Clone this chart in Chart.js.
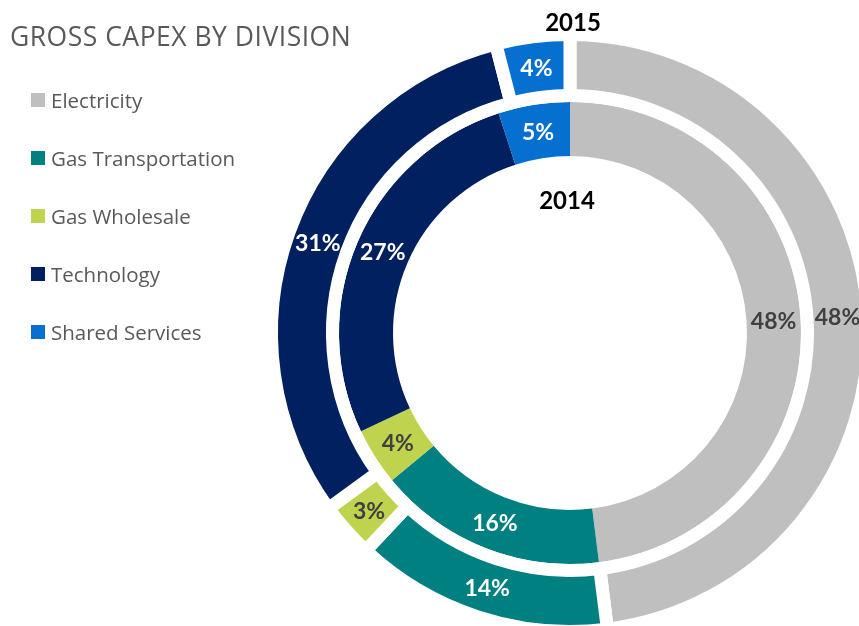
<!DOCTYPE html>
<html>
<head>
<meta charset="utf-8">
<title>Gross capex by division</title>
<script src="https://cdn.jsdelivr.net/npm/chart.js@4.4.0/dist/chart.umd.min.js"></script>
<style>
  html, body { margin: 0; padding: 0; background: #fff; }
  #wrap { position: relative; width: 859px; height: 626px; overflow: hidden; font-family: "Open Sans", Lato, sans-serif; }
  #chart { position: absolute; left: 0; top: 0; }
  .title { position: absolute; left: 10px; top: 18px; font-size: 26.5px; letter-spacing: 0.5px; color: #595959; white-space: nowrap; line-height: 36px; }
  .legend { position: absolute; left: 31px; top: 88px; margin: 0; padding: 0; list-style: none; }
  .legend li { display: flex; align-items: center; height: 24px; margin-bottom: 34px; font-size: 20.5px; color: #595959; white-space: nowrap; }
  .legend .swatch { width: 14px; height: 14px; margin-right: 6px; flex: none; }
  .year { position: absolute; width: 100px; text-align: center; font-family: Lato, sans-serif; font-weight: bold; font-size: 24px; color: #000; line-height: 30px; }
</style>
</head>
<body>
<div id="wrap">
  <canvas id="chart" width="859" height="626"></canvas>
  <div class="title">GROSS CAPEX BY DIVISION</div>
  <ul class="legend" id="legend"></ul>
  <div class="year" id="year-outer" style="left:523px; top:7px;"></div>
  <div class="year" id="year-inner" style="left:517px; top:185px;"></div>
</div>
<script>
const categories = ["Electricity", "Gas Transportation", "Gas Wholesale", "Technology", "Shared Services"];
const years = ["2015", "2014"];
const capex2015 = [48, 14, 3, 31, 4];
const capex2014 = [48, 16, 4, 27, 5];

const COLORS = ["#bfbfbf", "#008080", "#bfd34e", "#002060", "#0570cf"];
const LABEL_COLORS = ["#404040", "#ffffff", "#404040", "#ffffff", "#ffffff"];

function buildLegend() {
  const ul = document.getElementById("legend");
  categories.forEach((name, i) => {
    const li = document.createElement("li");
    li.innerHTML = `<span class="swatch" style="background:${COLORS[i]}"></span><span>${name}</span>`;
    ul.appendChild(li);
  });
  document.getElementById("year-outer").textContent = years[0];
  document.getElementById("year-inner").textContent = years[1];
}

// percentage labels in the middle of every arc
const pctLabels = {
  id: "pctLabels",
  afterDatasetsDraw(chart) {
    const ctx = chart.ctx;
    ctx.save();
    ctx.font = "bold 23px Lato";
    ctx.textAlign = "center";
    ctx.textBaseline = "middle";
    chart.data.datasets.forEach((ds, di) => {
      chart.getDatasetMeta(di).data.forEach((arc, i) => {
        const p = arc.getCenterPoint();
        ctx.fillStyle = LABEL_COLORS[i];
        ctx.fillText(`${ds.data[i]}%`, p.x, p.y + 1);
      });
    });
    ctx.restore();
  }
};

function createChart() {
  const ctx = document.getElementById("chart").getContext("2d");
  return new Chart(ctx, {
    type: "doughnut",
    data: {
      labels: categories,
      datasets: [
        {
          label: years[0],
          data: capex2015,
          backgroundColor: COLORS,
          borderColor: "#ffffff",
          borderWidth: 13,
          radius: 298.5,
          cutout: "59.13%",
          clip: false,
        },
        {
          label: years[1],
          data: capex2014,
          backgroundColor: COLORS,
          borderWidth: 0,
          radius: 285,
          cutout: "62.1%",
          clip: false,
        }
      ]
    },
    options: {
      responsive: false,
      devicePixelRatio: 1,
      animation: false,
      layout: { padding: { left: 281, top: 40, right: 0, bottom: 0 } },
      plugins: {
        legend: { display: false },
        title: { display: false },
        tooltip: { enabled: false },
      }
    },
    plugins: [pctLabels]
  });
}

buildLegend();
createChart();
</script>
</body>
</html>
